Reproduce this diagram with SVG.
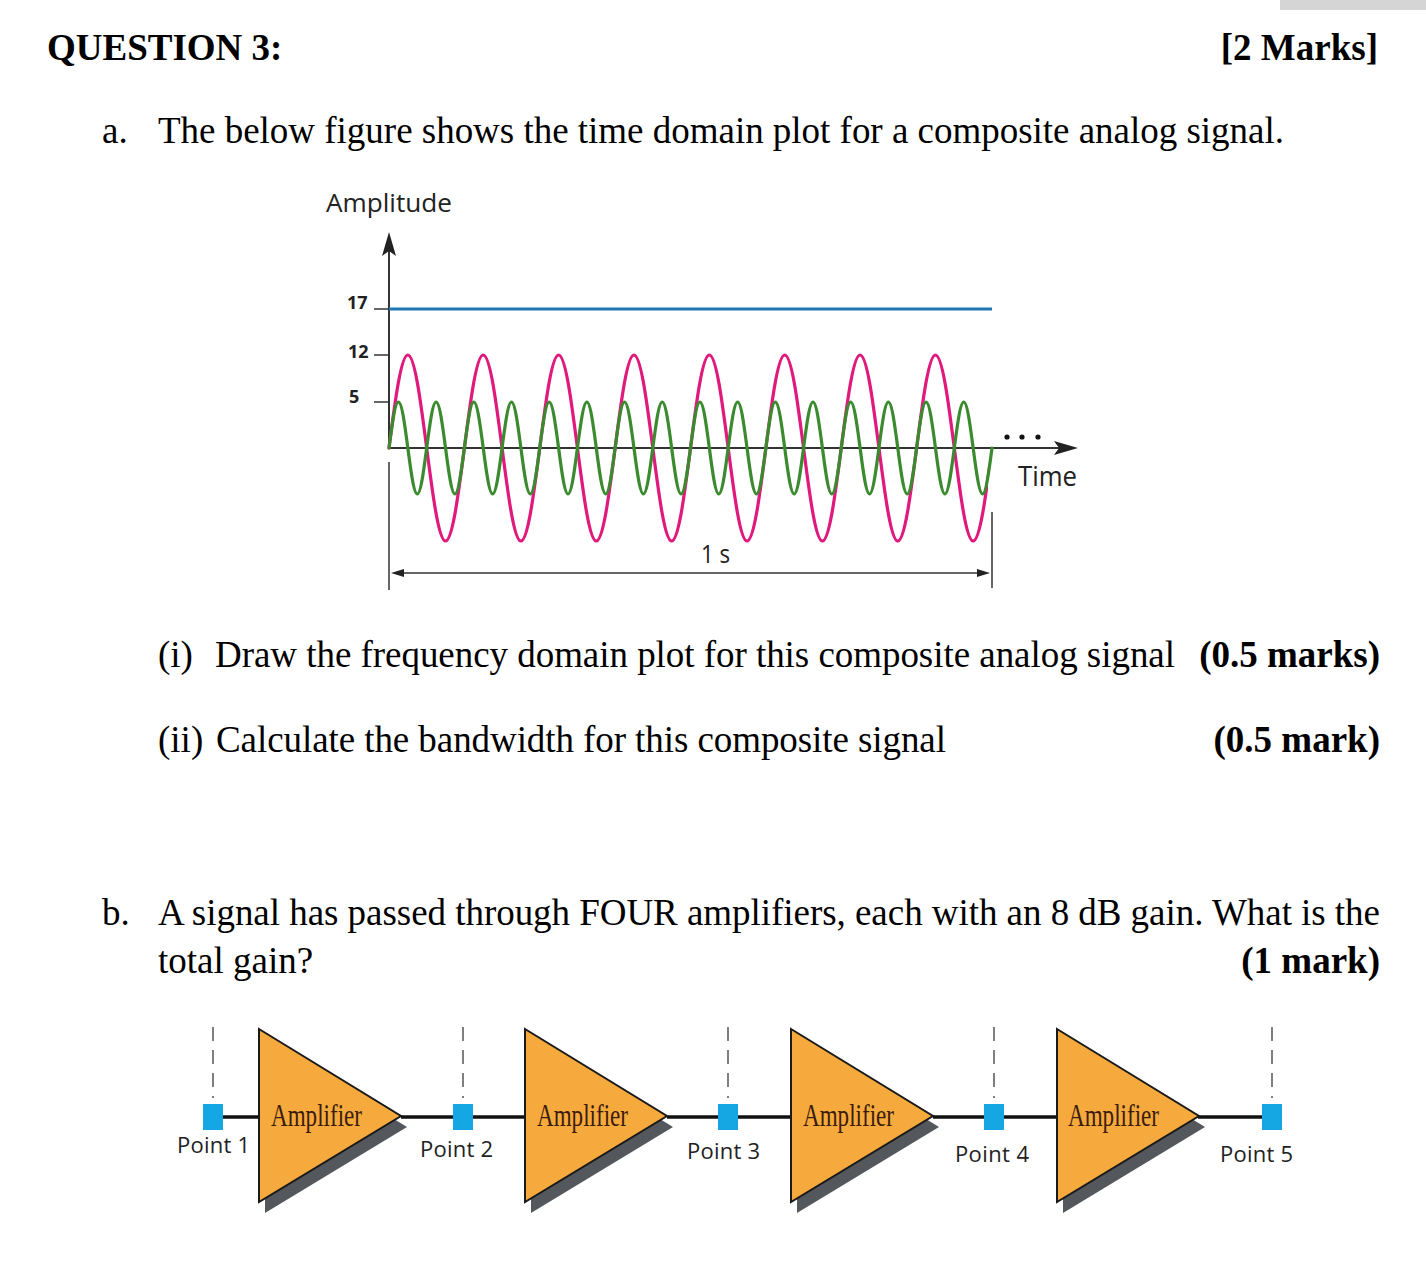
<svg xmlns="http://www.w3.org/2000/svg" width="1426" height="1284" viewBox="0 0 1426 1284">
<defs>
<style>
.serif{font-family:"Liberation Serif","Times New Roman",serif;font-size:37px;fill:#000}
.b{font-weight:bold}
.sans{font-family:"Open Sans","Noto Sans",sans-serif;fill:#222}
.tick{font-family:"Open Sans","Noto Sans",sans-serif;font-weight:bold;font-size:18px;fill:#222}
.axis{stroke:#333;stroke-width:2;fill:none}
.thin{stroke:#333;stroke-width:1.5;fill:none}
.pink{stroke:#e0197d;stroke-width:3.2;fill:none;stroke-linecap:round}
.green{stroke:#3b8a2f;stroke-width:3.2;fill:none;stroke-linecap:round}
.amp{fill:#f6aa3d;stroke:#1a1a1a;stroke-width:2;stroke-linejoin:miter}
.shadow{fill:#54575c}
.pt{fill:#15a6e4}
.ptlabel{font-family:"Open Sans","Noto Sans",sans-serif;font-size:22px;fill:#222}
.amptext{font-family:"Liberation Serif","Times New Roman",serif;font-size:31px;fill:#3b1c0c}
.dash{stroke:#555;stroke-width:1.5;stroke-dasharray:14 9;fill:none}
.wire{stroke:#111;stroke-width:3.5;fill:none}
</style>
<path id="pc" class="pink" d="M0,0 C6.145,-47.64 12.025,-93 18.844,-93 S31.543,-47.64 37.688,0 S49.711,93 56.531,93 S69.23,47.64 75.375,0"/>
<path id="gc" class="green" d="M0,0 C3.073,-23.57 6.012,-46 9.422,-46 S15.771,-23.57 18.844,0 S24.856,46 28.266,46 S34.614,23.57 37.688,0"/>
<clipPath id="pclip"><rect x="380" y="300" width="608" height="260"/></clipPath>
<polygon id="tri" points="0,0 142,87 0,173"/>
</defs>

<rect x="1280" y="0" width="146" height="10" fill="#d5d5d5"/>

<g id="header">
<text class="serif b" x="47" y="60">QUESTION 3:</text>
<text class="serif b" x="1378" y="60" text-anchor="end">[2 Marks]</text>
</g>

<g id="part-a">
<text class="serif" x="102" y="143">a.</text>
<text class="serif" x="158" y="143" textLength="1126">The below figure shows the time domain plot for a composite analog signal.</text>
<text class="serif" x="158" y="667">(i)</text>
<text class="serif" x="215" y="667" textLength="960">Draw the frequency domain plot for this composite analog signal</text>
<text class="serif b" x="1380" y="667" text-anchor="end">(0.5 marks)</text>
<text class="serif" x="158" y="752">(ii)</text>
<text class="serif" x="216" y="752" textLength="730">Calculate the bandwidth for this composite signal</text>
<text class="serif b" x="1380" y="752" text-anchor="end">(0.5 mark)</text>
</g>

<g id="plot">
<text class="sans" x="326" y="212" font-size="26" textLength="126" lengthAdjust="spacingAndGlyphs">Amplitude</text>
<line class="axis" x1="389" y1="250" x2="389" y2="449"/>
<polygon points="389,232 396,256 389,251 382,256" fill="#222"/>
<line class="axis" x1="389" y1="448" x2="1062" y2="448"/>
<polygon points="1078,448 1054,441 1059,448 1054,455" fill="#222"/>
<line class="thin" x1="374" y1="309" x2="389" y2="309"/>
<line class="thin" x1="374" y1="355" x2="389" y2="355"/>
<line class="thin" x1="374" y1="402" x2="389" y2="402"/>
<text class="tick" x="347" y="309">17</text>
<text class="tick" x="348" y="358">12</text>
<text class="tick" x="349" y="403">5</text>
<line x1="389" y1="309" x2="992" y2="309" stroke="#1f77b4" stroke-width="3"/>
<g clip-path="url(#pclip)">
<use href="#pc" x="389" y="448"/>
<use href="#pc" x="464.375" y="448"/>
<use href="#pc" x="539.75" y="448"/>
<use href="#pc" x="615.125" y="448"/>
<use href="#pc" x="690.5" y="448"/>
<use href="#pc" x="765.875" y="448"/>
<use href="#pc" x="841.25" y="448"/>
<use href="#pc" x="916.625" y="448"/>
</g>
<use href="#gc" x="389" y="448"/>
<use href="#gc" x="426.69" y="448"/>
<use href="#gc" x="464.38" y="448"/>
<use href="#gc" x="502.06" y="448"/>
<use href="#gc" x="539.75" y="448"/>
<use href="#gc" x="577.44" y="448"/>
<use href="#gc" x="615.13" y="448"/>
<use href="#gc" x="652.81" y="448"/>
<use href="#gc" x="690.5" y="448"/>
<use href="#gc" x="728.19" y="448"/>
<use href="#gc" x="765.88" y="448"/>
<use href="#gc" x="803.56" y="448"/>
<use href="#gc" x="841.25" y="448"/>
<use href="#gc" x="878.94" y="448"/>
<use href="#gc" x="916.63" y="448"/>
<use href="#gc" x="954.31" y="448"/>
<circle cx="1007" cy="437" r="2.6" fill="#111"/>
<circle cx="1022" cy="437" r="2.6" fill="#111"/>
<circle cx="1038" cy="437" r="2.6" fill="#111"/>
<text class="sans" x="1018" y="486" font-size="27" textLength="59" lengthAdjust="spacingAndGlyphs">Time</text>
<line class="thin" x1="389" y1="462" x2="389" y2="590"/>
<line class="thin" x1="992" y1="512" x2="992" y2="588"/>
<line class="thin" x1="398" y1="573" x2="984" y2="573"/>
<polygon points="391,573 404,569 404,577" fill="#222"/>
<polygon points="990,573 977,569 977,577" fill="#222"/>
<text class="sans" x="701" y="563" font-size="25" textLength="29" lengthAdjust="spacingAndGlyphs">1 s</text>
</g>

<g id="part-b">
<text class="serif" x="102" y="925">b.</text>
<text class="serif" x="158" y="925" textLength="1222">A signal has passed through FOUR amplifiers, each with an 8 dB gain. What is the</text>
<text class="serif" x="158" y="973">total gain?</text>
<text class="serif b" x="1380" y="973" text-anchor="end">(1 mark)</text>
</g>

<g id="connectors">
<line class="wire" x1="223" y1="1117" x2="259" y2="1117"/>
<line class="wire" x1="401" y1="1117" x2="453" y2="1117"/>
<line class="wire" x1="473" y1="1117" x2="525" y2="1117"/>
<line class="wire" x1="667" y1="1117" x2="718" y2="1117"/>
<line class="wire" x1="738" y1="1117" x2="791" y2="1117"/>
<line class="wire" x1="933" y1="1117" x2="984" y2="1117"/>
<line class="wire" x1="1004" y1="1117" x2="1057" y2="1117"/>
<line class="wire" x1="1198" y1="1117" x2="1263" y2="1117"/>
</g>

<g id="point1">
<line class="dash" x1="213" y1="1027" x2="213" y2="1098"/>
<rect class="pt" x="203" y="1104" width="20" height="26"/>
<text class="ptlabel" x="177" y="1153" textLength="73">Point 1</text>
</g>
<g id="amplifier1">
<use href="#tri" class="shadow" x="265" y="1040"/>
<use href="#tri" class="amp" x="259" y="1029"/>
<text class="amptext" x="271" y="1126" textLength="91" lengthAdjust="spacingAndGlyphs">Amplifier</text>
</g>
<g id="point2">
<line class="dash" x1="463" y1="1027" x2="463" y2="1098"/>
<rect class="pt" x="453" y="1104" width="20" height="26"/>
<text class="ptlabel" x="420" y="1157" textLength="73">Point 2</text>
</g>
<g id="amplifier2">
<use href="#tri" class="shadow" x="531" y="1040"/>
<use href="#tri" class="amp" x="525" y="1029"/>
<text class="amptext" x="537" y="1126" textLength="91" lengthAdjust="spacingAndGlyphs">Amplifier</text>
</g>
<g id="point3">
<line class="dash" x1="728" y1="1027" x2="728" y2="1098"/>
<rect class="pt" x="718" y="1104" width="20" height="26"/>
<text class="ptlabel" x="687" y="1159" textLength="73">Point 3</text>
</g>
<g id="amplifier3">
<use href="#tri" class="shadow" x="797" y="1040"/>
<use href="#tri" class="amp" x="791" y="1029"/>
<text class="amptext" x="803" y="1126" textLength="91" lengthAdjust="spacingAndGlyphs">Amplifier</text>
</g>
<g id="point4">
<line class="dash" x1="994" y1="1027" x2="994" y2="1098"/>
<rect class="pt" x="984" y="1104" width="20" height="26"/>
<text class="ptlabel" x="955" y="1162" textLength="74">Point 4</text>
</g>
<g id="amplifier4">
<use href="#tri" class="shadow" x="1063" y="1040"/>
<use href="#tri" class="amp" x="1057" y="1029"/>
<text class="amptext" x="1068" y="1126" textLength="91" lengthAdjust="spacingAndGlyphs">Amplifier</text>
</g>
<g id="point5">
<line class="dash" x1="1272" y1="1027" x2="1272" y2="1098"/>
<rect class="pt" x="1262" y="1104" width="20" height="26"/>
<text class="ptlabel" x="1220" y="1162" textLength="73">Point 5</text>
</g>
</svg>
